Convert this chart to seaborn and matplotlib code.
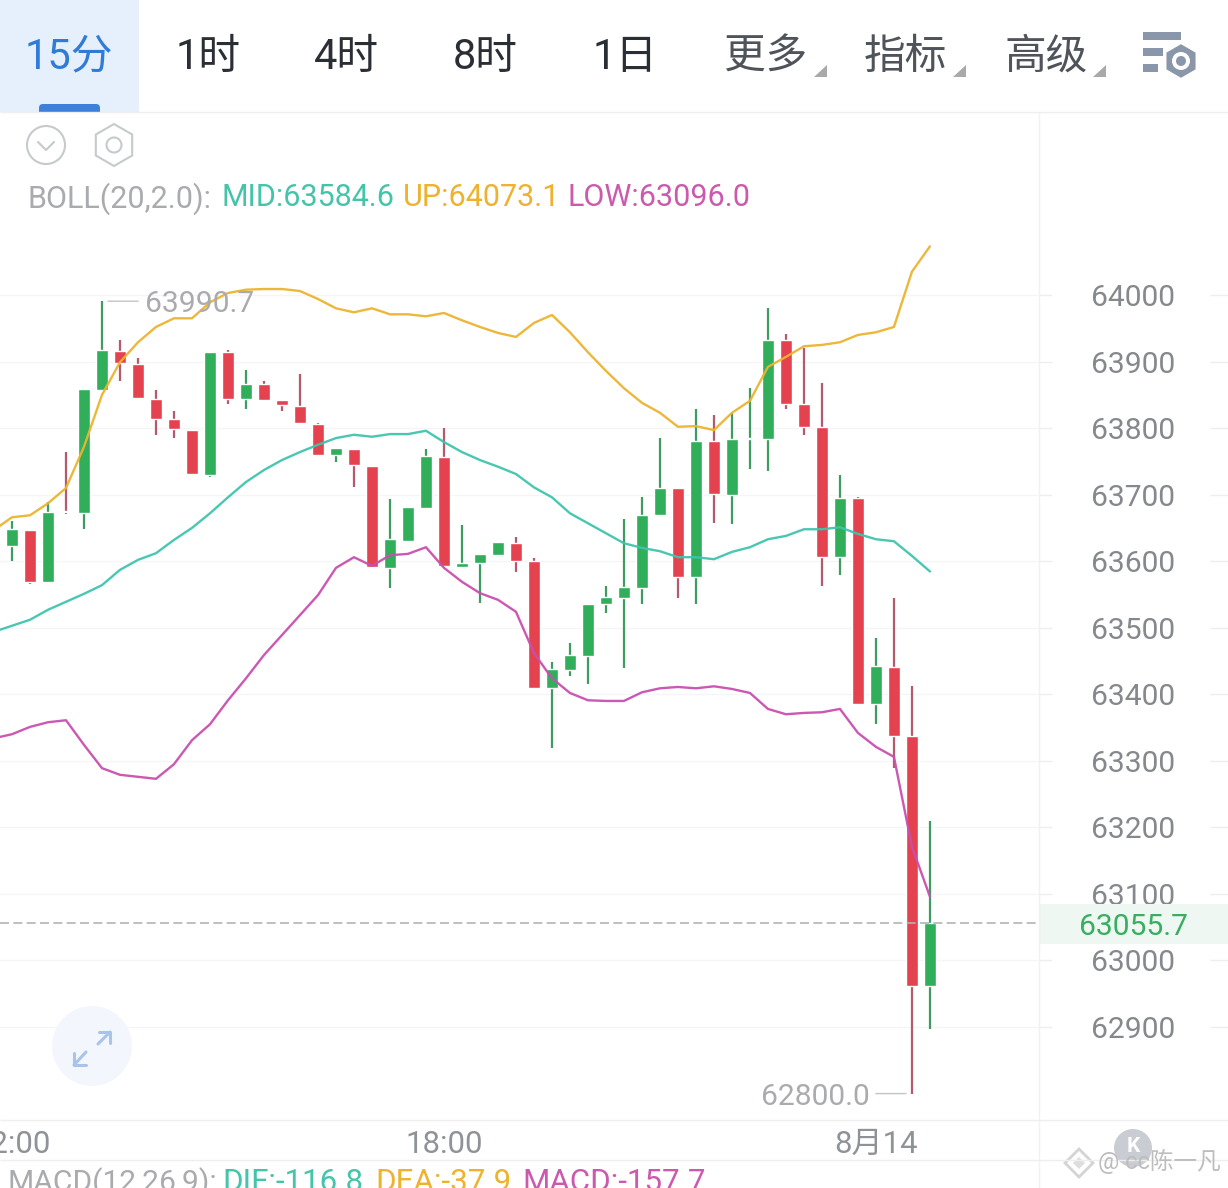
import matplotlib
matplotlib.use('Agg')
import matplotlib.pyplot as plt
from matplotlib.patches import Rectangle, Circle, Polygon, FancyBboxPatch
import numpy as np
import pandas as pd
import seaborn as sns

sns.set_theme(style="white")
plt.rcParams['font.family'] = ['Roboto', 'Noto Sans CJK SC']

# 15m candles
opens = [63623, 63647, 63568, 63676, 63673, 63858, 63916, 63897, 63844, 63813, 63797, 63730, 63915,
         63843, 63866, 63842, 63833, 63806, 63760, 63769, 63743, 63590, 63631, 63680, 63757, 63592,
         63597, 63610, 63628, 63600, 63410, 63437, 63458, 63536, 63545, 63560, 63669, 63710, 63576,
         63780, 63700, 63784, 63784, 63933, 63836, 63801, 63606, 63695, 63385, 63441, 63337, 62961]
closes = [63648, 63568, 63674, 63674, 63859, 63917, 63898, 63845, 63814, 63798, 63731, 63915, 63844,
          63866, 63842, 63834, 63807, 63760, 63770, 63745, 63592, 63633, 63681, 63758, 63593, 63598,
          63611, 63629, 63601, 63410, 63438, 63459, 63536, 63546, 63561, 63670, 63710, 63577, 63780,
          63701, 63783, 63785, 63933, 63836, 63802, 63607, 63695, 63385, 63442, 63337, 62962, 63055.7]
highs = [63661, 63647, 63689, 63764, 63859, 63990.7, 63933, 63905, 63858, 63826, 63797, 63915, 63917,
         63888, 63871, 63842, 63881, 63808, 63770, 63769, 63743, 63693, 63682, 63768, 63800, 63654,
         63611, 63629, 63637, 63605, 63449, 63477, 63536, 63562, 63664, 63697, 63785, 63710, 63828,
         63820, 63823, 63860, 63981, 63942, 63920, 63868, 63729, 63697, 63484, 63545, 63412, 63210]
lows = [63601, 63566, 63568, 63671, 63648, 63858, 63871, 63845, 63789, 63785, 63731, 63726, 63836,
        63828, 63842, 63825, 63807, 63759, 63749, 63711, 63592, 63560, 63631, 63680, 63593, 63592,
        63537, 63610, 63584, 63410, 63319, 63427, 63415, 63522, 63439, 63535, 63669, 63545, 63535,
        63658, 63656, 63738, 63736, 63828, 63790, 63563, 63580, 63385, 63356, 63289, 62800, 62897]

# Bollinger bands, first point sits just left of the first candle
band_x = list(range(-1, 52))
boll_up = [63647, 63666, 63669, 63687, 63710, 63772, 63850, 63899, 63929, 63952, 63965, 63965, 63989,
           64003, 64008, 64009, 64009, 64006, 63994, 63980, 63974, 63980, 63971, 63971, 63968, 63973,
           63962, 63952, 63943, 63937, 63958, 63970, 63944, 63914, 63886, 63860, 63838, 63823, 63802,
           63803, 63797, 63823, 63841, 63892, 63907, 63923, 63925, 63929, 63940, 63944, 63952, 64035, 64073.1]
boll_mid = [63494, 63503, 63512, 63527, 63539, 63551, 63564, 63587, 63602, 63612, 63632, 63650, 63672,
            63696, 63719, 63737, 63752, 63764, 63775, 63785, 63790, 63787, 63791, 63791, 63796, 63779,
            63764, 63752, 63742, 63731, 63711, 63696, 63672, 63657, 63642, 63627, 63620, 63615, 63606,
            63606, 63603, 63614, 63621, 63633, 63638, 63648, 63648, 63651, 63641, 63633, 63630, 63608, 63584.6]
boll_low = [63334, 63340, 63351, 63358, 63361, 63324, 63289, 63279, 63276, 63273, 63295, 63331, 63355,
            63391, 63424, 63459, 63489, 63519, 63549, 63590, 63606, 63593, 63609, 63611, 63621, 63590,
            63569, 63552, 63542, 63524, 63462, 63424, 63402, 63391, 63390, 63390, 63403, 63409, 63411,
            63409, 63412, 63408, 63402, 63378, 63370, 63372, 63373, 63378, 63342, 63321, 63306, 63171, 63096.0]

y_ticks = list(range(62900, 64001, 100))
time_pos = [0, 24, 48]
time_labels = ['12:00', '18:00', '8月14']
last_price = 63055.7
tabs = ['15分', '1时', '4时', '8时', '1日']
menus = ['更多', '指标', '高级']

RED = '#e5424f'
GREEN = '#30ae5a'
RED_WICK = '#b5596d'
GREEN_WICK = '#3d9c60'
TEAL = '#3fc4ad'
YELLOW = '#edb32f'
PINK = '#c94fae'
GREY = '#a9abae'
GRID = '#f5f5f8'
FS = 21.6

W, H = 1228, 1188
fig = plt.figure(figsize=(W / 100, H / 100), dpi=100, facecolor='white')

# main price panel, pixel box 0..1039 x 112..1120
ax = fig.add_axes([0, 1 - 1120 / H, 1039 / W, (1120 - 112) / H])
ax.set_xlim(-0.667, 57.06)
ax.set_ylim(62760.3, 64275)

df = pd.DataFrame({'open': opens, 'close': closes, 'high': highs, 'low': lows})
df['x'] = range(len(df))
up = df['close'] >= df['open']
ax.vlines(df['x'], df['low'], df['high'], colors=np.where(up, GREEN_WICK, RED_WICK), lw=1.6, zorder=2)
ax.bar(df['x'], (df['close'] - df['open']).abs(), bottom=df[['open', 'close']].min(axis=1), width=0.667,
       color=np.where(up, GREEN, RED), zorder=3)

for vals, col in [(boll_up, YELLOW), (boll_mid, TEAL), (boll_low, PINK)]:
    sns.lineplot(x=band_x, y=vals, color=col, lw=1.7, ax=ax, estimator=None, zorder=4, alpha=0.95)

ax.axhline(last_price, color='#b4b4b4', lw=1.2, dashes=(5.4, 2.6), zorder=5)

for s in ax.spines.values():
    s.set_visible(False)
ax.set_yticks(y_ticks)
ax.grid(axis='y', color=GRID, lw=1)
ax.set_axisbelow(True)
ax.yaxis.tick_right()
ax.tick_params(axis='y', length=0, pad=37.5, labelsize=FS, labelcolor='#85888c')
ax.set_xticks(time_pos)
ax.set_xticklabels(time_labels)
ax.tick_params(axis='x', length=0, pad=7, labelsize=22.4, labelcolor='#8f9296')
ax.hlines(y_ticks, 1, 1052 / 1039, transform=ax.get_yaxis_transform(), color='#eeeef1', lw=1, clip_on=False)
ax.hlines(y_ticks, 1210 / 1039, W / 1039, transform=ax.get_yaxis_transform(), color='#eeeef1', lw=1, clip_on=False)

# high and low callouts, label plus a short flat leader
for i, val, off, ha, lead in [(5, highs[5], 31.2, 'left', (4.3, 26)), (50, lows[50], -30.2, 'right', (-4.3, -26))]:
    ax.annotate(f'{val:.1f}', xy=(i, val), xytext=(off, 0), textcoords='offset points', ha=ha,
                va='center_baseline', fontsize=FS, color=GREY, zorder=6)
    ax.annotate('', xy=(i, val), xytext=(lead[1], 0), textcoords='offset points', zorder=6,
                arrowprops=dict(arrowstyle='-', color='#c4c4c4', lw=1, shrinkA=0, shrinkB=abs(lead[0])))

# app chrome on top, in pixel coordinates
ui = fig.add_axes([0, 0, 1, 1], zorder=10)
ui.set_xlim(0, W)
ui.set_ylim(H, 0)
ui.axis('off')

ui.add_patch(Rectangle((0, 0), 139, 112, color='#e6f0fd', lw=0))
ui.add_patch(FancyBboxPatch((39, 104), 61, 12, boxstyle='round,pad=0,rounding_size=4', color='#3c80dc', lw=0))
ui.add_patch(Rectangle((0, 112), 139, 6, color='white', lw=0, zorder=2))
ui.hlines([112, 1120, 1160], 0, W, color='#eeeeef', lw=1, zorder=3)
ui.vlines(1039, 112, H, color='#f1f1f3', lw=1)

for label, cx in zip(tabs, [69, 208, 346, 485, 625]):
    ui.text(cx, 57, label, ha='center', va='center', fontsize=30,
            color='#2f7bd6' if label == '15分' else '#2a2e35')
for label, cx in zip(menus, [766, 905, 1046]):
    ui.text(cx, 57, label, ha='center', va='center', fontsize=30, color='#4f545b')
for tx in [814, 953, 1093]:
    ui.add_patch(Polygon([(tx, 77), (tx + 13, 77), (tx + 13, 65)], color='#a9a9a9', lw=0))

# settings icon
for bx, by, bw in [(1143, 32, 38), (1143, 48, 20), (1143, 64, 15)]:
    ui.add_patch(Rectangle((bx, by), bw, 8, color='#8a97aa', lw=0))
hex_a = np.radians(np.arange(30, 390, 60))
ui.add_patch(Polygon(np.c_[1181 + 18 * np.cos(hex_a), 61 + 18 * np.sin(hex_a)], fc='#8a97aa', ec='white', lw=1.5))
ui.add_patch(Circle((1181, 61), 9, color='white', lw=0))
ui.add_patch(Circle((1181, 61), 5, color='#8a97aa', lw=0))

# collapse and gear icons
ui.add_patch(Circle((46, 145), 19, fc='none', ec='#c6cacd', lw=1.5))
ui.plot([38, 46, 54], [142, 150, 142], color='#c6cacd', lw=1.5)
ui.add_patch(Polygon(np.c_[114 + 21 * np.cos(hex_a), 145 + 21 * np.sin(hex_a)], fc='none', ec='#c6cacd', lw=1.5))
ui.add_patch(Circle((114, 145), 7.5, fc='none', ec='#c6cacd', lw=1.5))

# indicator rows
for txt, tx, col in [('BOLL(20,2.0):', 28, GREY), ('MID:63584.6', 222, '#44c4a9'),
                     ('UP:64073.1', 403, YELLOW), ('LOW:63096.0', 567, '#cb5aae')]:
    ui.text(tx, 195, txt, ha='left', va='center_baseline', fontsize=22, color=col)
for txt, tx, col, fs in [('MACD(12,26,9):', 8, GREY, 21.6), ('DIF:-116.8', 222, '#44c4a9', 22.5),
                         ('DEA:-37.9', 375, YELLOW, 22.5), ('MACD:-157.7', 522, '#cb5aae', 22.5)]:
    ui.text(tx, 1191, txt, ha='left', va='baseline', fontsize=fs, color=col)

# last price tag
ui.add_patch(Rectangle((1040, 904), W - 1040, 40, color='#eef7f1', lw=0))
ui.text(1133, 924, '63055.7', ha='center', va='center_baseline', fontsize=FS, color='#37ae60')

# expand button
ui.add_patch(Circle((92, 1046), 40, color='#f3f7fd', lw=0))
for pts in [[(98, 1044), (110, 1032)], [(99, 1032), (110, 1032), (110, 1043)],
            [(86, 1052), (74, 1065)], [(74, 1053), (74, 1065), (86, 1065)]]:
    xs, ys = zip(*pts)
    ui.plot(xs, ys, color='#a9c4ea', lw=2.2)

# watermark
ui.add_patch(Circle((1133, 1148), 19, color='#c9ccd2', lw=0))
ui.text(1133, 1146, 'K', ha='center', va='center', fontsize=15, color='white', fontweight='bold')
ui.add_patch(Polygon([(1079, 1149), (1093, 1163), (1079, 1177), (1065, 1163)], fc='none', ec='#d4d4d4', lw=2))
ui.add_patch(Polygon([(1079, 1157), (1085, 1163), (1079, 1169), (1073, 1163)], fc='#dedede', ec='none'))
ui.text(1098, 1162, '@ cc陈一凡', ha='left', va='center', fontsize=17, color='#bdbdbd')

fig.savefig('out.png', dpi=100)
plt.close(fig)
